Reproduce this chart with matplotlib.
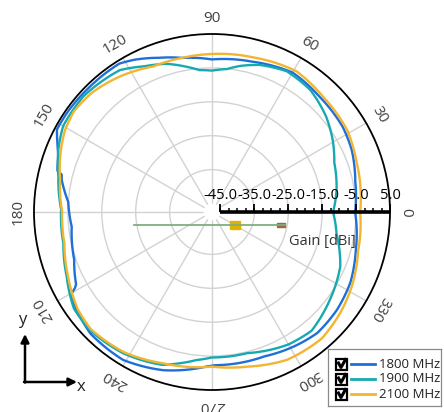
import numpy as np
import matplotlib
matplotlib.use("Agg")
import matplotlib.pyplot as plt
from matplotlib.patches import Rectangle
from matplotlib.transforms import offset_copy

plt.rcParams['font.family'] = ['Open Sans', 'DejaVu Sans']

# series (angle in degrees, gain in dBi)
labels = ['1800 MHz', '1900 MHz', '2100 MHz']
colors = ['#1f6fd8', '#17a9b1', '#f2b530']

angle_1800 = [0, 12, 24, 33, 47, 60, 75, 90, 101, 109, 117, 122, 135, 145, 152, 156, 160, 165, 166, 168,
              176, 186, 199, 208, 209, 210.5, 216, 225, 239, 253, 268, 271, 290, 302, 311, 322, 333, 345, 360]
gain_1800 = [-5.3, -4.3, -2.4, -1.5, -1.0, 0.0, -1.6, -2.5, -1.2, 0.6, 2.9, 4.1, 4.1, 4.3, 4.3, 2.4, 0.7, -0.3, -1.8, -2.2,
             -5.0, -5.9, -4.5, -2.1, -1.3, 0.9, 1.8, 3.2, 3.4, 1.3, -1.9, -2.3, -2.2, -1.0, -0.2, -0.7, -1.7, -3.6, -5.3]

angle_1900 = [0, 10, 22, 31, 40, 51, 62, 72, 79, 84, 90, 95, 100, 107, 115, 123, 138, 150, 158, 167,
              179, 192, 204, 215, 224, 238, 252, 258, 264, 270, 284, 300, 310, 323, 337, 350, 360]
gain_1900 = [-11.8, -10.2, -8.6, -6.0, -3.6, -1.3, -0.5, -1.9, -3.6, -5.1, -5.8, -5.5, -4.0, -1.8, -0.1, 2.4, 3.5, 3.2, 1.4, -1.0,
             -3.0, -2.7, -0.6, 2.2, 2.6, 1.7, -0.1, -1.9, -3.6, -4.6, -4.6, -2.4, -1.8, -4.1, -6.4, -10.2, -11.8]

angle_2100 = [0, 19, 31, 46, 59, 75, 90, 101, 112, 124, 135, 144, 151, 158, 168, 180, 192, 204, 216, 224,
              238, 252, 270, 283, 297, 311, 322, 332, 345, 360]
gain_2100 = [-3.8, -2.4, -0.9, -0.3, 0.9, -0.3, -0.9, -1.2, -1.2, 0.8, 2.4, 2.9, 2.1, 0.6, -1.7, -3.3, -3.0, -1.0, 1.4, 2.2,
             1.3, -0.6, -1.9, -0.7, 1.4, 1.9, 0.6, -0.8, -2.9, -3.8]

theta_ticks = list(range(0, 360, 30))
r_grid = [-35, -25, -15, -5]
scale_major = [-45, -35, -25, -15, -5, 5]
scale_minor = np.arange(-45, 5.1, 2.5)

fig = plt.figure(figsize=(4.44, 4.12), dpi=100)
ax = fig.add_axes([34 / 444, 22 / 412, 356 / 444, 356 / 412], projection='polar')

for ang, g, c in zip([angle_1800, angle_1900, angle_2100], [gain_1800, gain_1900, gain_2100], colors):
    line, = ax.plot(np.deg2rad(ang), g, color=c, lw=1.7, zorder=3)
    # let the polar transform bend each segment along theta
    line.get_path()._interpolation_steps = 30

ax.set_ylim(-45, 5)
ax.set_rorigin(-47.5)
ax.set_thetagrids(theta_ticks, labels=[''] * len(theta_ticks))
ax.set_rgrids(r_grid, labels=[''] * len(r_grid))
ax.grid(True, color='#d2d2d2', lw=1.0)
ax.spines['polar'].set_linewidth(1.3)
ax.spines['inner'].set_color('none')
ax.tick_params(axis='x', direction='inout', length=7, width=1.2, colors='k')
ax.tick_params(axis='y', length=0)

# angle labels, turned along the circle
for a in theta_ticks:
    ax.text(np.deg2rad(a), 9.7, str(a), rotation=a - 90, rotation_mode='anchor',
            ha='center', va='center', fontsize=11, color='#404040')

# gain scale bar along 0 deg
ax.plot([0, 0], [-45, 5], color='k', lw=2.6, solid_capstyle='butt', zorder=6, clip_on=False)
ax.plot(np.zeros(len(scale_minor)), scale_minor, ls='none', marker=2, ms=3, mew=1.1, color='k', zorder=6, clip_on=False)
ax.plot(np.zeros(len(scale_major)), scale_major, ls='none', marker=2, ms=6, mew=1.3, color='k', zorder=6, clip_on=False)
above = offset_copy(ax.transData, fig=fig, y=9.5, units='points')
for v in scale_major:
    ax.text(0, v, f'{v:.1f}', transform=above, ha='center', va='baseline',
            fontsize=10.5, color='k', zorder=7, clip_on=False)
below = offset_copy(ax.transData, fig=fig, y=-21, units='points')
ax.text(0, -15, 'Gain [dBi]', transform=below, ha='center', va='center',
        fontsize=10.5, color='#333333', clip_on=False)

# overlay in pixel units for the small decorations
ov = fig.add_axes([0, 0, 1, 1])
ov.set_xlim(0, 444)
ov.set_ylim(412, 0)
ov.axis('off')
ov.patch.set_alpha(0)
ov.set_zorder(5)
ov.plot([134, 285], [225, 225], color='#7fae7f', lw=1.3)
ov.add_patch(Rectangle((230, 221), 10, 7.5, color='#e2b000'))
ov.add_patch(Rectangle((277, 223), 8, 3.5, color='#9a6a3c'))
ov.annotate('', xy=(25, 334), xytext=(25, 382.5),
            arrowprops=dict(arrowstyle='-|>', lw=1.8, color='k', mutation_scale=12, shrinkA=0, shrinkB=0))
ov.annotate('', xy=(77, 382), xytext=(24, 382),
            arrowprops=dict(arrowstyle='-|>', lw=1.8, color='k', mutation_scale=12, shrinkA=0, shrinkB=0))
ov.text(22, 320, 'y', fontsize=12, ha='center', va='center', color='#222222')
ov.text(81, 387, 'x', fontsize=12, ha='center', va='center', color='#222222')

# legend with check boxes
lg = fig.add_axes([328 / 444, 6 / 412, 113 / 444, 57 / 412])
lg.set_xlim(0, 113)
lg.set_ylim(57, 0)
lg.set_xticks([])
lg.set_yticks([])
lg.set_zorder(10)
for s in lg.spines.values():
    s.set_color('#8a8a8a')
    s.set_linewidth(0.9)
for i, (lab, c) in enumerate(zip(labels, colors)):
    y = 15 + 15 * i
    lg.add_patch(Rectangle((8, y - 5.5), 11, 11, fill=False, ec='k', lw=1.6))
    lg.plot([10.5, 13, 17.5], [y - 1, y + 3.5, y - 4.5], color='k', lw=2.2)
    lg.plot([23, 47], [y, y], color=c, lw=2)
    lg.text(51, y, lab, va='center', ha='left', fontsize=9.5, color='#222222')

fig.savefig('out.png', dpi=100)
